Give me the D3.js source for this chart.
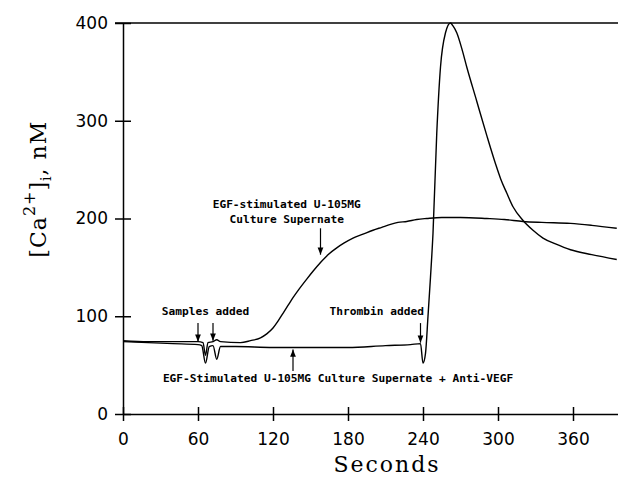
<!DOCTYPE html>
<html>
<head>
<meta charset="utf-8">
<script src="https://cdn.jsdelivr.net/npm/d3@7"></script>
<style>
  body { margin: 0; background: #fff; }
  .tick text { font-family: "DejaVu Sans", sans-serif; font-size: 17px; fill: #000; }
  .note { font-family: "DejaVu Sans Mono", monospace; font-weight: bold; font-size: 11.2px; }
</style>
</head>
<body>
<div id="viz"></div>
<script>
// trace without thrombin response (EGF-stimulated supernate)
const t1 = [0, 20, 40, 60, 64, 66, 68, 72, 75, 78, 94, 102, 110, 115, 120, 124, 128, 132, 136, 141, 147, 152, 158, 164, 171, 177, 184, 192, 200, 207, 214, 220, 227, 235, 243, 255, 270, 291, 305, 320, 335, 358, 375, 395];
const ca1 = [75, 74, 74, 74, 73, 60, 73, 74, 76, 74, 73, 75, 78, 82, 88, 95, 103, 111, 119, 128, 138, 146, 155, 163, 170, 175, 180, 184, 188, 191, 194, 196, 197, 199, 200, 201, 201, 200, 199, 197, 196, 195, 193, 190];

// trace with anti-VEGF, then thrombin
const t2 = [0, 20, 40, 60, 63, 66, 69, 72, 75, 78, 90, 120, 150, 180, 210, 230, 238, 240, 242, 244, 246, 248, 251, 254, 258, 262, 264, 267, 271, 275, 283, 291, 298, 302, 307, 312, 320, 328, 336, 346, 358, 375, 395];
const ca2 = [74, 73, 72, 71, 70, 52, 69, 70, 56, 69, 69, 68, 68, 68, 70, 71, 72, 52, 62, 100, 140, 185, 287, 355, 390, 400, 397, 390, 374, 355, 320, 285, 256, 241, 226, 212, 198, 188, 180, 174, 168, 163, 158];

const xTicks = [0, 60, 120, 180, 240, 300, 360];
const yTicks = [0, 100, 200, 300, 400];

const notes = [
  { text: "EGF-stimulated U-105MG", t: 131, v: 211 },
  { text: "Culture Supernate", t: 131, v: 195 },
  { text: "Samples added", t: 66, v: 101 },
  { text: "Thrombin added", t: 203, v: 101 },
  { text: "EGF-Stimulated U-105MG Culture Supernate + Anti-VEGF", t: 172, v: 33 }
];
// arrows: time, from value, to value
const arrows = [
  { t: 158, v0: 190, v1: 163 },
  { t: 60, v0: 93, v1: 74 },
  { t: 72, v0: 93, v1: 75 },
  { t: 238, v0: 93, v1: 73 },
  { t: 136, v0: 44, v1: 66 }
];

const W = 618, H = 481;
const svg = d3.select('#viz').append('svg')
    .attr('width', W)
    .attr('height', H);

svg.append('defs').append('marker')
    .attr('id', 'head')
    .attr('viewBox', '0 0 10 10')
    .attr('refX', 10).attr('refY', 5)
    .attr('markerWidth', 6).attr('markerHeight', 6)
    .attr('orient', 'auto')
  .append('path')
    .attr('d', 'M0,1 L10,5 L0,9 Z')
    .attr('fill', '#000');

const x = d3.scaleLinear().domain([0, 396]).range([123, 618]);
const y = d3.scaleLinear().domain([0, 400]).range([414, 23]);

// x axis
const gx = svg.append('g')
    .attr('transform', `translate(0,${y(0)})`)
    .call(d3.axisBottom(x).tickValues(xTicks).tickSize(7).tickSizeOuter(0).tickPadding(12));
gx.selectAll('.tick line').attr('y1', -7).attr('stroke-width', 1.5);
gx.select('.domain').attr('stroke-width', 1.5);

// y axis
const gy = svg.append('g')
    .attr('transform', `translate(${x(0)},0)`)
    .call(d3.axisLeft(y).tickValues(yTicks).tickSize(8).tickSizeOuter(0).tickPadding(7));
gy.selectAll('.tick line').attr('x1', 8).attr('stroke-width', 1.5);
gy.select('.domain').attr('stroke-width', 1.5);

// top frame line
svg.append('line')
    .attr('x1', x(0) - 8).attr('x2', x(396))
    .attr('y1', y(400)).attr('y2', y(400))
    .attr('stroke', '#000').attr('stroke-width', 1.5);

const line = d3.line().x(d => x(d[0])).y(d => y(d[1])).curve(d3.curveMonotoneX);
[[t1, ca1], [t2, ca2]].forEach(([t, c]) => {
  svg.append('path')
      .datum(t.map((d, i) => [d, c[i]]))
      .attr('d', line)
      .attr('fill', 'none')
      .attr('stroke', '#000')
      .attr('stroke-width', 1.4)
      .attr('stroke-linejoin', 'round');
});

svg.selectAll('.note').data(notes).enter().append('text')
    .attr('class', 'note')
    .attr('x', d => x(d.t))
    .attr('y', d => y(d.v))
    .attr('text-anchor', 'middle')
    .text(d => d.text);

svg.selectAll('.arrow').data(arrows).enter().append('line')
    .attr('x1', d => x(d.t)).attr('x2', d => x(d.t))
    .attr('y1', d => y(d.v0)).attr('y2', d => y(d.v1))
    .attr('stroke', '#000').attr('stroke-width', 1.2)
    .attr('marker-end', 'url(#head)');

// axis titles
svg.append('text')
    .attr('x', 387).attr('y', 472)
    .attr('text-anchor', 'middle')
    .attr('font-family', 'DejaVu Serif, serif')
    .attr('font-size', 22)
    .attr('letter-spacing', 2)
    .text('Seconds');

const yl = svg.append('text')
    .attr('transform', `translate(46,${y(230)}) rotate(-90)`)
    .attr('text-anchor', 'middle')
    .attr('font-family', 'DejaVu Serif, serif')
    .attr('font-size', 22)
    .attr('letter-spacing', 1);
yl.append('tspan').text('[Ca');
yl.append('tspan').attr('font-size', 16).attr('dy', -11).text('2+');
yl.append('tspan').attr('dy', 11).text(']');
yl.append('tspan').attr('font-size', 14).attr('dy', 5).text('i');
yl.append('tspan').attr('dy', -5).text(', nM');
</script>
</body>
</html>
